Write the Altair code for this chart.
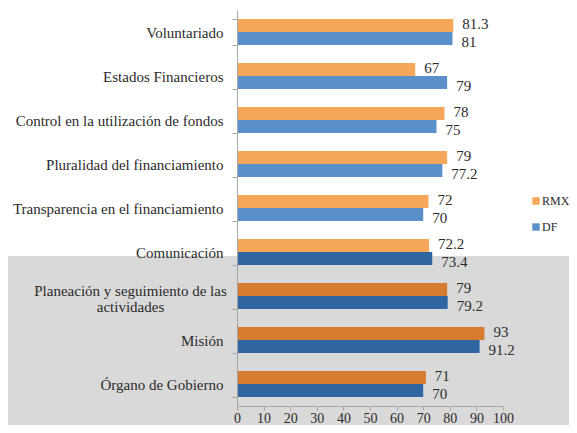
import altair as alt
import pandas as pd

categories = [
    "Voluntariado",
    "Estados Financieros",
    "Control en la utilización de fondos",
    "Pluralidad del financiamiento",
    "Transparencia en el financiamiento",
    "Comunicación",
    "Planeación y seguimiento de las actividades",
    "Misión",
    "Órgano de Gobierno",
]
rmx = [81.3, 67, 78, 79, 72, 72.2, 79, 93, 71]
df_vals = [81, 79, 75, 77.2, 70, 73.4, 79.2, 91.2, 70]
rmx_labels = ["81.3", "67", "78", "79", "72", "72.2", "79", "93", "71"]
df_labels = ["81", "79", "75", "77.2", "70", "73.4", "79.2", "91.2", "70"]
# bars lying under the grey highlight band of the original picture
rmx_shaded = [False, False, False, False, False, False, True, True, True]
df_shaded = [False, False, False, False, False, True, True, True, True]
series = ["RMX", "DF"]
x_ticks = [0, 10, 20, 30, 40, 50, 60, 70, 80, 90, 100]

rows = []
for i, c in enumerate(categories):
    rows.append({"cat": c, "series": "RMX", "value": rmx[i], "label": rmx_labels[i],
                 "key": "RMX s" if rmx_shaded[i] else "RMX"})
    rows.append({"cat": c, "series": "DF", "value": df_vals[i], "label": df_labels[i],
                 "key": "DF s" if df_shaded[i] else "DF"})
data = pd.DataFrame(rows)

FONT = "Liberation Serif"
TXT = "#2B2B2B"
AX = "#A6A6A6"
LONG = "Planeación y seguimiento de las actividades"
test_long = "datum.value == '" + LONG + "'"

label_expr = (
    test_long + " ? ['Planeación y seguimiento de las', 'actividades'] : datum.label"
)

y_enc = alt.Y(
    "cat:N",
    sort=categories,
    scale=alt.Scale(paddingInner=0.41, paddingOuter=0.205),
    axis=alt.Axis(
        title=None, domainColor=AX, tickColor=AX, tickSize=5, tickBand="extent",
        labelFont=FONT, labelFontSize=15, labelColor=TXT,
        labelPadding={"condition": {"test": test_long, "value": 102}, "value": 9},
        labelAlign={"condition": {"test": test_long, "value": "center"}, "value": "right"},
        labelOffset={"condition": {"test": test_long, "value": -6}, "value": 0},
        labelExpr=label_expr, labelLineHeight=16, labelLimit=0, zindex=1,
    ),
)
yoff = alt.YOffset("series:N", sort=series, scale=alt.Scale(paddingInner=0))
x_enc = alt.X(
    "value:Q",
    scale=alt.Scale(domain=[0, 100], nice=False),
    axis=alt.Axis(
        values=x_ticks, title=None, grid=False, domainColor=AX, tickColor=AX,
        tickSize=4, labelFont=FONT, labelFontSize=14, labelColor=TXT,
        labelPadding=1, labelOverlap=False, labelFlush=False, zindex=1,
    ),
)

base = alt.Chart(data).encode(y=y_enc, yOffset=yoff, x=x_enc)

bars = base.mark_bar().encode(
    color=alt.Color(
        "key:N",
        scale=alt.Scale(
            domain=["RMX", "DF", "RMX s", "DF s"],
            range=["#F7A75A", "#5B8FC9", "#D67C30", "#2F66A2"],
        ),
        legend=alt.Legend(
            values=["RMX", "DF"], title=None, orient="none", legendX=293, legendY=185,
            symbolType="square", symbolSize=55, symbolStrokeWidth=0,
            labelFont=FONT, labelFontSize=12, labelColor=TXT, labelOffset=0,
            rowPadding=14, padding=0,
        ),
    )
)

text_rmx = base.transform_filter(alt.datum.series == "RMX").mark_text(
    align="left", baseline="middle", dx=9, dy=-1.5, font=FONT, fontSize=15, color=TXT
).encode(text="label:N")
text_df = base.transform_filter(alt.datum.series == "DF").mark_text(
    align="left", baseline="middle", dx=9, dy=4, font=FONT, fontSize=15, color=TXT
).encode(text="label:N")

shade = alt.Chart(pd.DataFrame({"a": [0]})).mark_rect(color="#D9D9D9", clip=False).encode(
    x=alt.value(-229), x2=alt.value(345), y=alt.value(246), y2=alt.value(440)
)

chart = alt.layer(shade, bars, text_rmx, text_df).properties(
    width=266, height=396,
    autosize=alt.AutoSizeParams(type="none"),
    padding={"left": 229, "top": 2, "right": 66, "bottom": 19},
).configure_view(stroke=None)

chart.save("out.html", embed_options={"renderer": "svg", "actions": False})
